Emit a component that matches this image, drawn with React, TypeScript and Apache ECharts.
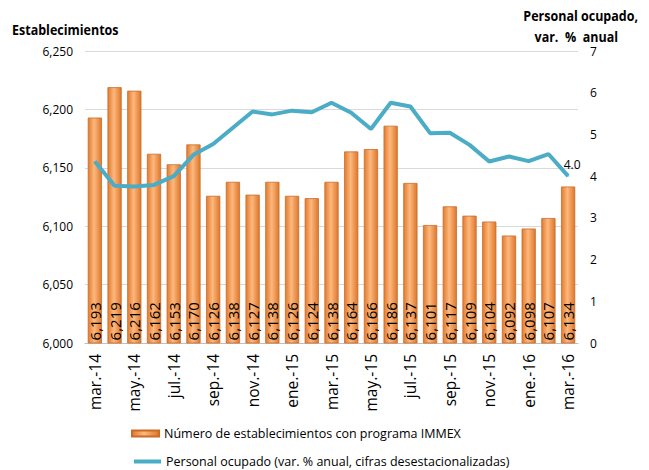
import React, { useEffect, useRef } from "react";
import * as echarts from "echarts";

const categories = [
  "mar.-14", "abr.-14", "may.-14", "jun.-14", "jul.-14", "ago.-14", "sep.-14", "oct.-14",
  "nov.-14", "dic.-14", "ene.-15", "feb.-15", "mar.-15", "abr.-15", "may.-15", "jun.-15",
  "jul.-15", "ago.-15", "sep.-15", "oct.-15", "nov.-15", "dic.-15", "ene.-16", "feb.-16", "mar.-16",
];

const establecimientos = [
  6193, 6219, 6216, 6162, 6153, 6170, 6126, 6138, 6127, 6138, 6126, 6124, 6138,
  6164, 6166, 6186, 6137, 6101, 6117, 6109, 6104, 6092, 6098, 6107, 6134,
];

const personalOcupado = [
  4.35, 3.77, 3.75, 3.79, 4.0, 4.51, 4.77, 5.16, 5.55, 5.48, 5.57, 5.53, 5.76,
  5.52, 5.13, 5.76, 5.67, 5.03, 5.04, 4.75, 4.35, 4.47, 4.36, 4.53, 4.0,
];

const barName = "Número de establecimientos con programa IMMEX";
const lineName = "Personal ocupado (var. % anual, cifras desestacionalizadas)";

const FONT = "'Open Sans', sans-serif";

export default function App() {
  const ref = useRef<HTMLDivElement>(null);
  useEffect(() => {
    if (!ref.current) return;
    const chart = echarts.init(ref.current, undefined, { renderer: "svg" });
    const fmt = (v: number) => v.toLocaleString("en-US");
    const title = (text: string, x: number, y: number, align: string) => ({
      type: "text",
      x,
      y,
      scaleY: 1.2,
      style: {
        text,
        font: `bold 12.5px ${FONT}`,
        fill: "#000",
        textAlign: align,
        textVerticalAlign: "middle",
        align,
        verticalAlign: "middle",
      },
    });
    chart.setOption({
      animation: false,
      textStyle: { fontFamily: FONT },
      grid: { left: 85, right: 71, top: 51, bottom: 127 },
      graphic: [
        title("Establecimientos", 12, 29, "left"),
        title("Personal ocupado,", 638, 15, "right"),
        title("var.  %  anual", 618, 36, "right"),
      ],
      legend: [
        {
          left: 126,
          top: 422,
          itemWidth: 27,
          itemHeight: 6,
          textStyle: { fontSize: 12.5, color: "#000", fontFamily: FONT },
          data: [{ name: barName, icon: "rect" }],
        },
        {
          left: 129,
          top: 450,
          itemWidth: 27,
          itemHeight: 4,
          textStyle: { fontSize: 12.5, color: "#000", fontFamily: FONT },
          data: [{ name: lineName, icon: "rect", itemStyle: { color: "#4bacc6" } }],
        },
      ],
      xAxis: {
        type: "category",
        data: categories,
        axisLine: { lineStyle: { color: "#bfbfbf" } },
        axisTick: { show: false },
        axisLabel: {
          rotate: 90,
          interval: 1,
          fontSize: 15.5,
          color: "#000",
          margin: 11,
          fontFamily: FONT,
        },
      },
      yAxis: [
        {
          type: "value",
          min: 6000,
          max: 6250,
          interval: 50,
          axisLine: { show: false },
          axisTick: { show: false },
          splitLine: { lineStyle: { color: "#d9d9d9" } },
          axisLabel: { formatter: fmt, fontSize: 12, color: "#000", margin: 12, fontFamily: FONT },
        },
        {
          type: "value",
          min: 0,
          max: 7,
          interval: 1,
          axisLine: { show: false },
          axisTick: { show: false },
          splitLine: { show: false },
          axisLabel: { fontSize: 12, color: "#000", margin: 12, fontFamily: FONT },
        },
      ],
      series: [
        {
          name: barName,
          type: "bar",
          yAxisIndex: 0,
          data: establecimientos,
          barCategoryGap: "28%",
          itemStyle: {
            color: new echarts.graphic.LinearGradient(0, 0, 1, 0, [
              { offset: 0, color: "#e27b2e" },
              { offset: 0.45, color: "#fdb87e" },
              { offset: 1, color: "#de772a" },
            ]),
            borderColor: "#c96b2b",
            borderWidth: 0.8,
          },
          label: {
            show: true,
            position: "insideBottom",
            rotate: 90,
            align: "left",
            verticalAlign: "middle",
            distance: 3,
            formatter: (p: any) => fmt(p.value),
            fontSize: 15,
            color: "#000",
            fontFamily: FONT,
          },
        },
        {
          name: lineName,
          type: "line",
          yAxisIndex: 1,
          data: personalOcupado.map((v, i) =>
            i === personalOcupado.length - 1
              ? {
                  value: v,
                  label: {
                    show: true,
                    position: "top",
                    distance: 5,
                    offset: [4, 0],
                    formatter: (p: any) => Number(p.value).toFixed(1),
                    fontSize: 12,
                    color: "#000",
                    fontFamily: FONT,
                  },
                }
              : v
          ),
          symbol: "circle",
          symbolSize: 1,
          showSymbol: true,
          lineStyle: { color: "#4bacc6", width: 4 },
          itemStyle: { color: "#4bacc6" },
          z: 5,
        },
      ],
    });
    return () => chart.dispose();
  }, []);
  return <div ref={ref} style={{ width: 649, height: 470, position: "absolute", left: 0, top: 0 }} />;
}
